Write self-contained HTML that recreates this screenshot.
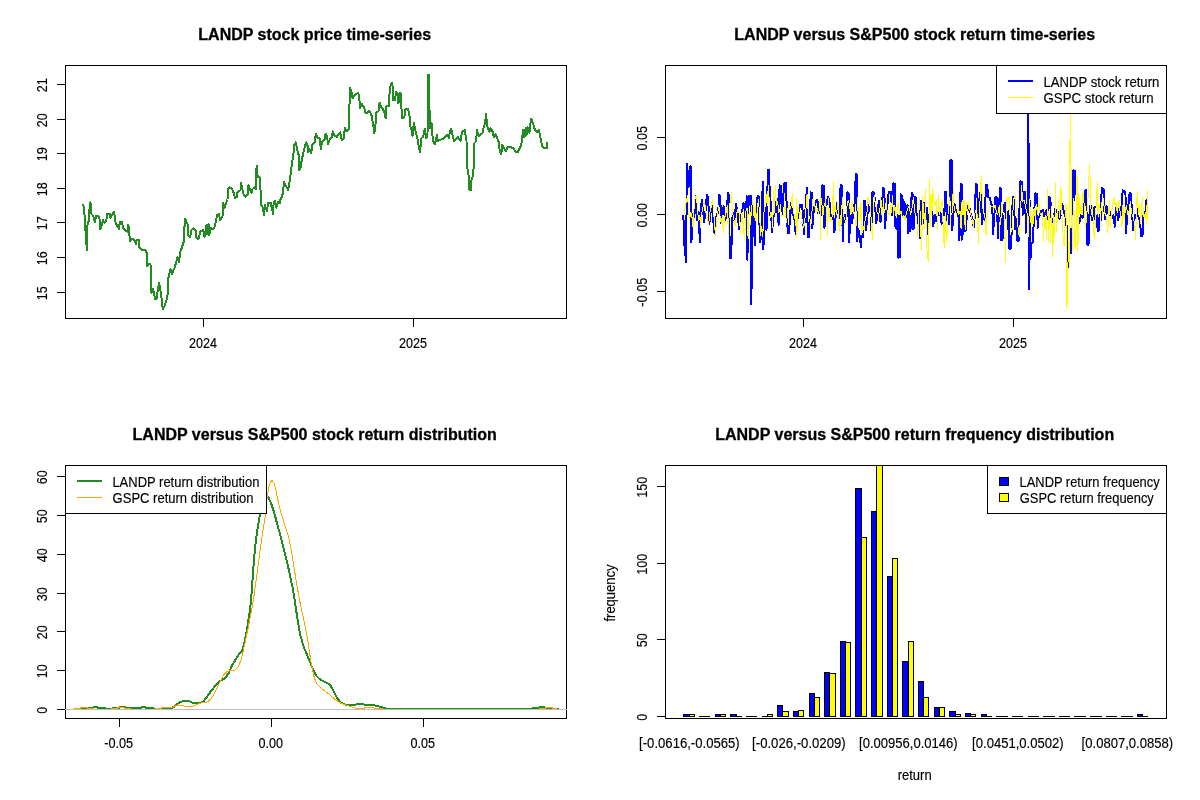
<!DOCTYPE html>
<html><head><meta charset="utf-8"><title>LANDP</title>
<style>html,body{margin:0;padding:0;background:#fff}svg{display:block}text{font-family:"Liberation Sans", sans-serif;fill:#000;stroke:#000;stroke-width:0.15px}text.b{stroke-width:0.3px}</style></head><body>
<svg width="1200" height="800" viewBox="0 0 1200 800" shape-rendering="crispEdges">
<rect width="1200" height="800" fill="#fff"/>
<clipPath id="c0"><rect x="66" y="66" width="500" height="252"/></clipPath>
<clipPath id="c1"><rect x="666" y="66" width="500" height="252"/></clipPath>
<clipPath id="c2"><rect x="66" y="466" width="500" height="252"/></clipPath>
<clipPath id="c3"><rect x="666" y="466" width="500" height="252"/></clipPath>
<rect x="65.5" y="65.5" width="501" height="253" fill="none" stroke="#000" stroke-width="1"/>
<polyline clip-path="url(#c0)" points="83.4,204.8 84.5,215.3 85.1,225.0 86.9,250.5 87.5,225.0 88.6,221.3 89.0,213.0 90.5,202.5 91.3,213.8 93.1,215.6 95.0,222.0 96.1,215.6 98.4,215.6 99.9,219.8 100.3,229.1 101.8,225.0 102.9,220.1 104.8,222.8 106.6,219.0 107.4,213.8 109.6,213.8 110.4,217.9 113.8,211.9 114.9,216.8 115.3,221.3 116.8,225.0 119.0,229.1 119.8,222.0 122.0,221.6 123.1,228.0 126.1,231.0 128.0,231.8 128.4,224.6 129.1,232.5 130.1,241.1 131.8,238.5 134.0,240.0 135.9,244.1 136.6,240.0 138.9,240.0 139.3,247.5 142.0,250.5 145.0,249.5 146.8,253.0 147.2,266.0 149.0,264.0 150.5,264.0 151.0,290.0 151.5,293.0 153.0,288.5 155.0,299.0 156.5,298.5 159.0,282.5 160.5,291.0 161.5,298.0 162.8,309.0 164.5,306.0 166.5,300.0 168.0,293.0 168.2,279.0 169.5,273.0 170.5,269.0 172.0,274.0 173.5,270.0 174.5,268.0 176.0,263.0 177.5,257.0 179.2,262.0 180.0,252.5 182.0,247.0 184.0,241.0 184.3,230.0 185.0,218.5 186.5,222.0 188.0,225.0 188.5,236.0 190.0,237.0 191.5,230.0 193.5,228.0 195.5,230.5 196.5,238.0 198.5,239.0 200.5,231.5 203.0,230.0 204.5,236.5 206.5,225.0 207.0,234.0 208.5,224.0 209.2,235.5 211.0,228.0 212.5,229.0 213.5,229.0 215.0,226.0 216.0,220.5 217.2,215.0 219.0,214.0 220.2,220.5 222.5,216.0 223.2,203.0 224.5,208.0 226.0,203.0 227.5,199.5 228.0,189.0 229.5,187.0 232.0,189.0 234.0,193.5 235.0,198.0 237.0,197.0 237.5,192.5 240.5,190.0 241.2,183.0 242.5,190.0 243.5,194.0 245.5,196.5 248.0,194.0 248.5,185.0 250.0,189.0 251.5,193.0 252.5,189.0 255.0,187.0 256.0,189.0 255.8,172.7 257.0,165.4 257.6,176.7 259.6,177.2 260.7,193.0 261.2,205.4 262.9,207.6 264.1,215.5 264.6,204.8 266.9,211.0 268.0,203.1 270.8,202.6 271.9,208.7 273.1,213.8 273.6,203.1 275.0,200.9 276.4,207.6 278.1,202.0 279.8,203.1 280.9,197.5 282.1,197.5 283.2,189.6 284.0,182.3 286.0,186.2 288.2,190.2 289.1,185.1 290.5,175.0 292.2,161.5 293.3,156.4 294.1,144.6 295.9,142.4 297.2,150.2 298.6,154.7 299.3,169.9 300.6,167.1 301.7,160.4 303.4,152.5 304.6,147.4 306.2,142.4 307.6,145.7 308.3,152.5 309.6,149.1 311.3,153.1 312.4,144.1 314.7,142.4 315.8,133.9 317.5,137.9 319.7,138.4 320.9,149.1 322.0,142.4 324.5,139.7 325.6,133.6 327.0,136.4 328.1,144.2 329.6,139.7 331.8,137.5 332.9,131.3 334.1,135.2 336.9,136.9 338.6,134.1 340.2,132.4 341.9,140.3 343.6,138.6 345.0,127.4 346.4,131.3 348.7,129.6 349.2,112.7 350.1,87.4 351.5,91.9 352.6,98.1 355.4,94.7 358.2,92.5 359.4,99.2 359.9,108.2 361.6,103.7 363.9,107.1 365.6,113.3 367.2,112.7 368.9,110.5 371.2,113.9 372.3,119.5 373.4,126.2 374.2,133.0 375.3,128.5 376.0,112.7 378.5,111.1 379.6,102.6 381.3,107.1 383.0,109.4 384.7,112.7 385.6,118.4 386.4,106.0 388.8,106.0 389.5,94.2 390.6,85.2 391.9,82.9 392.8,87.2 393.1,99.8 395.0,99.8 396.2,91.6 397.8,96.0 398.5,103.5 399.4,92.9 401.0,93.5 401.5,108.5 402.2,117.9 404.4,117.2 405.6,108.5 407.5,108.5 409.4,112.9 410.0,126.0 411.5,129.8 412.5,136.0 413.8,122.9 415.0,128.5 416.5,134.8 418.1,141.0 418.8,147.2 420.2,152.2 421.0,138.5 423.1,136.6 425.0,128.5 426.2,138.5 427.5,136.0 427.9,74.8 429.0,74.8 429.8,128.5 431.5,122.9 432.5,136.0 433.5,141.6 435.0,144.1 436.9,134.8 437.5,141.0 440.0,139.8 443.8,138.5 445.6,136.6 447.5,134.8 448.8,137.9 450.0,131.0 451.2,129.1 452.5,134.8 454.0,141.0 456.2,139.1 458.1,137.2 460.6,141.0 461.9,132.2 464.8,129.8 465.6,136.0 466.5,141.0 467.2,167.5 468.5,175.0 469.4,190.0 471.0,190.0 471.5,180.0 473.1,175.0 474.0,162.5 474.4,143.1 476.2,141.2 476.9,130.0 478.5,136.2 480.6,134.4 482.5,133.1 483.8,126.2 485.0,123.8 486.0,113.8 487.2,126.2 489.4,131.9 490.6,128.1 492.5,131.2 494.0,137.5 495.6,134.4 497.5,138.8 499.0,142.5 499.8,151.9 501.2,154.4 502.2,145.0 503.8,147.5 505.6,151.2 507.5,147.5 510.6,146.9 513.8,148.8 515.6,151.9 517.8,151.9 519.4,148.8 521.2,145.0 522.2,137.5 523.1,130.0 524.4,137.5 525.6,128.1 526.5,135.0 527.5,126.9 529.4,133.1 530.2,125.0 531.2,118.8 533.1,123.8 535.0,130.0 536.9,131.9 539.0,130.0 540.6,138.8 542.5,146.9 544.4,148.1 546.9,148.1 547.1,142.5" fill="none" stroke="#228B22" stroke-width="2" stroke-linejoin="round" stroke-linecap="round"/>
<text x="314.7" y="40.2" text-anchor="middle" font-size="16" font-weight="bold" class="b">LANDP stock price time-series</text>
<rect x="57" y="292" width="8" height="1" fill="#000"/>
<text x="46.6" y="293.2" text-anchor="middle" font-size="14" textLength="14" lengthAdjust="spacingAndGlyphs" transform="rotate(-90 46.6 293.2)">15</text>
<rect x="57" y="257" width="8" height="1" fill="#000"/>
<text x="46.6" y="258.2" text-anchor="middle" font-size="14" textLength="14" lengthAdjust="spacingAndGlyphs" transform="rotate(-90 46.6 258.2)">16</text>
<rect x="57" y="222" width="8" height="1" fill="#000"/>
<text x="46.6" y="223.2" text-anchor="middle" font-size="14" textLength="14" lengthAdjust="spacingAndGlyphs" transform="rotate(-90 46.6 223.2)">17</text>
<rect x="57" y="188" width="8" height="1" fill="#000"/>
<text x="46.6" y="189.2" text-anchor="middle" font-size="14" textLength="14" lengthAdjust="spacingAndGlyphs" transform="rotate(-90 46.6 189.2)">18</text>
<rect x="57" y="153" width="8" height="1" fill="#000"/>
<text x="46.6" y="154.2" text-anchor="middle" font-size="14" textLength="14" lengthAdjust="spacingAndGlyphs" transform="rotate(-90 46.6 154.2)">19</text>
<rect x="57" y="119" width="8" height="1" fill="#000"/>
<text x="46.6" y="120.2" text-anchor="middle" font-size="14" textLength="14" lengthAdjust="spacingAndGlyphs" transform="rotate(-90 46.6 120.2)">20</text>
<rect x="57" y="84" width="8" height="1" fill="#000"/>
<text x="46.6" y="85.2" text-anchor="middle" font-size="14" textLength="14" lengthAdjust="spacingAndGlyphs" transform="rotate(-90 46.6 85.2)">21</text>
<rect x="65" y="84" width="1" height="209" fill="#000"/>
<rect x="203" y="318" width="1" height="9" fill="#000"/>
<text x="203" y="348" text-anchor="middle" font-size="14" textLength="28" lengthAdjust="spacingAndGlyphs">2024</text>
<rect x="413" y="318" width="1" height="9" fill="#000"/>
<text x="413" y="348" text-anchor="middle" font-size="14" textLength="28" lengthAdjust="spacingAndGlyphs">2025</text>
<rect x="203" y="318" width="211" height="1" fill="#000"/>
<rect x="665.5" y="65.5" width="501" height="253" fill="none" stroke="#000" stroke-width="1"/>
<polyline clip-path="url(#c1)" points="683.4,215.0 684.1,242.5 685.2,251.5 685.9,261.8 687.2,164.1 688.5,187.5 690.3,166.2 691.3,166.9 691.4,242.5 692.7,214.3 693.8,217.8 694.9,212.3 695.8,195.8 697.2,220.5 698.6,212.3 699.9,242.5 700.6,220.5 701.7,199.9 702.7,205.4 704.1,221.9 705.4,212.3 706.8,195.1 708.2,197.1 709.2,224.6 710.5,212.3 711.9,206.1 713.0,217.8 714.4,232.9 715.5,219.1 716.9,215.0 718.2,212.3 719.2,195.1 720.3,197.1 721.0,223.3 722.4,212.3 723.7,206.1 725.1,220.5 726.8,212.3 727.9,193.0 729.0,195.8 729.8,258.3 731.2,258.3 732.0,224.6 732.9,212.3 734.3,220.5 736.1,204.0 737.8,215.0 739.1,228.8 740.5,217.8 741.9,212.3 743.5,203.3 744.6,205.4 745.7,220.5 746.7,196.4 747.4,259.7 748.1,220.5 748.8,195.8 750.0,201.3 750.7,195.8 751.4,304.4 752.1,215.0 753.4,205.4 754.8,245.3 755.8,215.0 757.6,195.8 758.9,197.1 759.9,242.5 761.7,234.3 762.7,182.0 763.3,249.4 764.4,228.8 765.4,208.1 766.5,230.1 767.9,169.6 769.3,170.3 769.9,215.0 770.6,201.3 772.0,232.2 773.4,217.8 774.8,201.3 776.1,212.3 777.5,199.2 778.6,224.6 779.6,185.4 780.9,186.1 781.9,215.0 783.0,201.3 784.1,183.4 786.0,182.7 786.9,215.0 787.8,232.9 789.2,232.9 789.9,215.0 791.0,203.3 791.9,212.3 793.3,215.0 794.7,220.5 795.7,234.3 796.8,215.0 798.1,217.8 799.8,205.4 801.6,204.7 802.9,212.3 803.9,234.3 805.0,215.0 806.1,202.6 806.8,188.2 807.8,237.0 808.9,237.0 809.8,215.0 810.8,192.3 812.2,193.0 812.3,228.1 813.3,215.0 814.6,205.4 816.7,199.9 817.7,201.3 818.5,213.6 820.0,205.4 820.0,205.4 821.4,215.0 822.5,185.4 823.9,186.1 824.4,228.1 825.5,215.0 826.9,201.3 828.0,197.1 829.4,199.2 829.9,212.3 831.7,217.8 833.1,215.0 834.4,232.2 835.4,219.1 836.8,203.3 838.6,215.0 839.9,217.8 840.6,184.8 842.0,185.4 842.7,241.1 843.7,219.1 845.0,215.0 846.4,220.5 847.5,192.3 848.6,193.0 849.2,242.5 850.3,212.3 851.9,223.3 853.0,215.0 854.4,206.8 855.8,174.4 857.1,174.4 857.3,241.1 858.2,228.8 859.9,237.0 861.0,247.3 861.9,228.8 863.3,237.0 864.3,200.6 865.4,201.3 866.1,230.1 867.4,215.0 868.8,205.4 870.6,212.3 871.6,232.2 872.5,191.6 873.9,192.3 875.0,201.3 876.1,223.3 877.5,215.0 878.9,200.6 879.8,201.3 880.5,221.9 881.6,212.3 883.0,188.2 884.4,188.9 884.9,228.1 886.0,215.0 887.4,205.4 888.8,191.6 890.0,192.3 890.0,191.6 891.1,192.3 892.1,215.0 893.4,183.4 895.2,184.1 895.5,227.4 896.9,228.8 897.6,215.0 898.5,257.6 899.9,257.0 900.7,194.4 901.6,215.0 902.4,195.8 903.2,216.4 903.8,201.3 904.6,217.8 905.1,204.0 906.2,215.0 907.2,205.4 907.9,233.6 909.0,205.4 909.9,231.5 910.6,215.0 911.7,193.0 912.4,228.8 913.1,194.4 913.7,228.8 914.8,197.1 916.1,197.8 916.8,223.3 918.2,215.0 919.6,208.1 920.3,238.4 920.9,201.3 922.3,215.0 923.3,223.3 924.4,202.6 925.8,212.3 926.9,208.1 927.8,234.3 928.8,215.0 930.6,212.3 931.9,206.8 933.3,226.0 934.7,215.0 936.1,221.2 937.4,212.3 938.8,215.0 940.2,209.5 941.6,223.9 942.9,212.3 944.3,215.0 945.0,191.6 946.1,192.3 946.7,220.5 947.8,205.4 949.1,224.6 949.8,184.8 950.5,160.0 951.6,160.7 952.2,230.1 953.3,215.0 954.6,204.0 956.0,212.3 957.4,215.0 958.8,217.8 959.4,240.5 960.0,215.0 960.0,215.0 960.7,184.1 961.7,184.8 961.8,239.8 962.5,235.6 963.0,215.0 964.1,205.4 965.5,231.5 966.9,215.0 968.3,205.4 969.6,208.1 971.0,215.0 972.4,219.1 973.8,227.4 974.9,215.0 975.8,184.1 977.2,184.8 977.9,215.0 979.3,217.8 980.4,192.3 981.3,193.0 982.0,224.6 983.4,212.3 984.8,220.5 985.9,184.8 987.2,185.4 988.2,197.1 990.0,197.8 990.9,204.0 992.3,205.4 993.0,234.3 994.4,215.0 995.5,197.1 997.1,197.8 997.8,238.4 998.8,215.0 999.9,188.2 1001.3,188.9 1001.4,240.5 1002.9,238.4 1003.7,205.4 1005.1,203.3 1006.1,215.0 1007.4,228.8 1008.4,210.9 1009.5,249.4 1011.2,248.0 1012.0,215.0 1012.9,197.1 1013.9,199.9 1015.0,228.8 1016.1,219.1 1017.5,241.1 1018.9,239.8 1019.4,210.9 1020.5,181.3 1022.2,182.0 1022.6,215.0 1023.9,191.6 1025.3,192.3 1025.7,232.9 1026.7,215.0 1027.7,201.3 1028.2,74.7 1029.2,289.3 1030.0,215.0 1030.0,201.3 1030.7,257.6 1031.4,242.5 1033.0,242.5 1033.9,215.0 1035.5,193.0 1037.2,194.4 1037.6,228.1 1038.5,217.8 1039.9,215.0 1041.3,210.9 1043.1,210.2 1044.4,216.4 1046.5,210.2 1047.9,219.1 1049.3,197.1 1050.4,197.8 1050.9,215.0 1052.7,223.3 1054.1,215.0 1055.4,208.8 1056.8,215.0 1058.2,212.3 1059.6,219.1 1060.9,215.0 1062.3,204.0 1063.7,210.9 1064.7,215.0 1065.8,224.6 1067.1,226.0 1067.8,267.5 1069.2,267.3 1069.9,228.8 1071.0,253.5 1071.9,215.0 1072.9,199.9 1073.5,170.3 1074.3,199.9 1075.1,171.0 1076.1,184.8 1076.8,201.3 1077.4,201.3 1078.1,215.0 1079.2,223.3 1080.9,215.0 1082.3,217.8 1083.6,215.0 1084.7,194.4 1085.7,189.6 1086.4,201.3 1087.5,245.3 1088.9,242.5 1089.4,215.0 1090.5,205.4 1091.9,220.5 1093.3,215.0 1094.6,206.8 1096.0,227.4 1097.4,215.0 1098.5,231.5 1100.0,215.0 1100.7,220.5 1101.7,188.2 1103.5,188.9 1104.0,205.4 1105.1,219.1 1106.5,206.1 1107.9,212.3 1109.3,215.0 1110.6,212.3 1112.0,217.8 1113.4,215.0 1114.8,226.7 1116.1,207.4 1117.5,208.1 1118.2,220.5 1119.6,209.5 1120.9,215.0 1121.9,199.9 1122.7,190.3 1124.4,190.9 1125.5,195.1 1126.0,233.6 1127.1,215.0 1128.2,206.8 1129.6,193.0 1131.0,193.7 1131.9,212.3 1133.3,230.1 1134.7,215.0 1136.1,217.8 1137.4,209.5 1138.8,219.1 1140.2,220.5 1140.9,236.3 1142.5,235.6 1143.4,215.0 1144.7,212.3 1145.7,215.0 1146.4,199.9 1147.1,217.8" fill="none" stroke="#0000FF" stroke-width="2" stroke-linejoin="round"/>
<polyline clip-path="url(#c1)" points="683.9,214.3 684.8,210.9 686.2,201.3 687.6,195.1 688.3,206.8 689.4,221.9 690.7,212.3 692.1,217.8 693.1,227.4 694.4,201.3 695.4,197.1 696.5,195.1 697.6,212.3 699.0,220.5 699.9,215.0 700.6,227.4 702.0,212.3 703.4,205.4 704.5,201.3 705.9,212.3 707.5,217.8 708.6,224.6 710.0,212.3 711.4,206.8 712.5,199.2 713.7,212.3 714.7,226.0 715.5,235.6 716.4,220.5 717.8,212.3 718.8,205.4 719.9,215.0 721.3,223.3 722.4,215.0 723.3,232.9 724.7,217.8 726.1,212.3 727.4,205.4 728.4,235.6 729.2,212.3 730.2,201.3 731.6,192.3 732.3,212.3 733.6,217.8 735.0,226.0 736.4,215.0 737.8,209.5 739.1,212.3 740.5,233.6 741.2,217.8 742.2,212.3 743.5,228.8 744.6,240.5 745.7,212.3 747.1,208.1 748.1,238.4 748.8,215.0 750.0,212.3 750.0,224.6 751.1,215.0 752.5,199.9 753.4,205.4 754.1,217.8 755.2,205.4 756.2,224.6 757.6,205.4 758.5,199.9 759.6,215.0 760.7,235.6 761.7,226.0 762.7,237.0 763.8,215.0 764.9,201.3 766.2,194.4 767.2,205.4 768.3,185.4 769.3,201.3 770.4,217.8 771.7,212.3 772.7,227.4 773.7,190.3 774.5,212.3 775.4,185.4 776.4,205.4 777.5,201.3 778.9,212.3 780.3,208.1 781.9,216.4 783.7,215.0 785.1,205.4 786.4,222.6 787.4,215.0 788.5,202.6 789.9,209.5 791.3,205.4 792.4,193.0 793.3,212.3 794.7,215.0 795.7,226.0 796.5,198.5 796.8,237.7 797.9,206.8 799.5,215.0 800.9,212.3 802.3,220.5 803.9,227.4 805.0,217.8 806.1,206.8 807.1,194.4 808.4,215.0 809.8,217.8 811.2,223.9 812.6,201.3 813.5,195.8 814.6,205.4 816.0,212.3 817.4,208.1 818.5,215.0 820.0,202.6 820.0,239.8 820.7,195.8 822.1,205.4 823.0,215.0 824.1,205.4 825.5,201.3 826.6,212.3 827.6,235.6 828.5,198.5 829.4,215.0 830.7,221.9 832.4,215.0 833.5,182.0 833.8,215.0 835.1,205.4 836.5,215.0 837.9,202.6 839.3,231.5 840.4,215.0 841.3,224.6 842.3,197.1 843.4,215.0 844.8,219.1 845.9,224.6 846.8,206.8 848.2,199.9 849.6,205.4 850.9,215.0 852.3,201.3 853.7,212.3 855.1,220.5 856.0,226.0 856.9,215.0 857.4,197.1 858.5,215.0 859.9,220.5 861.0,202.6 861.9,234.3 862.9,226.0 864.0,230.1 865.4,217.8 866.8,215.0 868.1,196.4 869.5,201.3 870.9,215.0 872.3,239.1 873.4,215.0 874.3,195.8 875.7,205.4 877.1,212.3 878.4,215.0 879.8,210.9 880.8,195.8 881.9,215.0 883.3,205.4 884.6,212.3 886.0,203.3 887.4,212.3 888.8,215.0 890.0,212.3 890.0,205.4 891.4,212.3 892.5,195.8 893.4,215.0 894.8,205.4 896.2,217.8 897.6,205.4 898.5,201.3 899.6,215.0 901.0,210.9 902.4,217.8 903.8,215.0 905.1,220.5 906.5,212.3 907.9,208.1 909.3,205.4 910.6,215.0 912.0,208.1 913.4,197.1 914.8,212.3 915.9,215.0 916.8,220.5 917.8,236.3 918.6,215.0 919.6,197.1 920.5,226.0 921.6,250.8 922.7,197.1 923.7,215.0 924.7,228.8 925.5,189.6 926.4,242.5 927.4,254.9 928.5,261.8 929.6,179.3 930.2,226.0 931.0,194.4 931.9,215.0 932.6,188.2 933.7,201.3 935.1,205.4 936.5,199.2 937.4,228.8 938.4,195.8 939.5,215.0 940.9,208.1 942.3,199.2 943.4,234.3 944.3,248.0 945.3,215.0 946.4,241.8 947.5,228.8 948.4,204.0 949.4,197.1 950.5,212.3 951.9,215.0 953.3,188.2 953.9,205.4 955.3,212.3 956.7,215.0 957.7,208.1 958.8,215.0 960.0,210.9 960.0,212.3 961.1,228.8 962.1,199.9 963.0,215.0 964.1,199.2 965.2,230.1 966.2,202.6 967.6,215.0 968.5,201.9 969.6,208.1 971.0,215.0 972.4,220.5 973.5,227.4 974.4,215.0 975.8,210.2 977.2,215.0 978.6,243.9 979.3,215.0 980.4,193.0 981.3,175.8 982.3,201.3 983.4,212.3 984.8,215.0 986.1,235.6 987.2,215.0 988.6,208.1 990.3,206.8 992.3,206.1 993.7,208.1 995.1,205.4 996.4,212.3 997.8,215.0 999.2,205.4 1000.6,224.6 1001.9,202.6 1002.9,212.3 1004.3,215.0 1005.7,261.1 1006.5,197.1 1007.9,199.9 1009.2,197.1 1010.2,215.0 1011.2,231.5 1012.3,228.8 1013.4,199.9 1014.7,195.1 1016.1,205.4 1017.1,215.0 1018.4,231.5 1019.4,237.0 1020.5,215.0 1021.6,185.4 1022.6,201.3 1023.9,199.9 1025.3,205.4 1026.7,212.3 1027.7,215.0 1028.5,237.0 1029.4,199.9 1030.0,215.0 1030.0,206.8 1031.1,224.6 1032.1,215.0 1033.0,224.6 1034.1,208.1 1035.2,217.8 1036.6,204.0 1037.6,215.0 1038.5,197.1 1039.6,212.3 1041.0,215.0 1042.4,212.3 1043.5,241.1 1044.4,221.9 1045.4,215.0 1046.5,239.8 1047.6,189.6 1048.6,241.8 1049.5,215.0 1050.6,242.5 1051.7,206.8 1052.7,257.0 1053.7,215.0 1054.8,237.0 1055.4,182.0 1056.4,231.5 1057.5,215.0 1058.6,198.5 1059.6,217.8 1060.9,186.8 1061.9,212.3 1063.0,234.3 1064.1,246.0 1065.1,215.0 1066.0,204.0 1066.9,308.8 1068.5,241.1 1069.2,267.3 1070.2,113.0 1071.3,184.8 1072.4,250.1 1073.3,198.5 1074.3,215.0 1075.1,250.1 1076.1,228.8 1077.0,175.8 1077.9,252.1 1078.8,193.0 1079.8,215.0 1080.9,205.4 1082.0,215.0 1082.9,192.3 1083.9,201.3 1085.0,217.8 1085.7,227.4 1086.7,215.0 1087.8,202.6 1088.9,177.9 1089.8,164.8 1090.5,204.0 1091.6,215.0 1092.6,205.4 1093.5,230.1 1094.6,239.8 1095.7,215.0 1096.7,194.4 1097.4,182.7 1098.1,215.0 1098.8,204.0 1100.0,208.1 1100.3,220.5 1101.3,202.6 1102.4,215.0 1103.5,198.5 1104.4,212.3 1105.8,215.0 1106.8,221.2 1107.6,232.9 1108.6,215.0 1109.5,199.9 1110.4,227.4 1111.3,215.0 1112.7,204.0 1114.1,197.1 1115.0,205.4 1116.1,202.6 1117.2,212.3 1118.2,205.4 1119.2,200.6 1120.3,215.0 1121.4,220.5 1121.9,226.7 1123.0,205.4 1124.1,220.5 1125.1,212.3 1126.4,205.4 1127.8,215.0 1129.2,210.9 1130.6,201.9 1131.3,212.3 1132.6,215.0 1134.0,220.5 1134.7,226.0 1135.7,239.8 1136.5,204.0 1137.4,192.3 1138.4,215.0 1139.5,204.0 1140.6,223.3 1141.6,208.1 1142.5,197.1 1143.4,215.0 1144.3,217.8 1145.3,212.3 1146.4,223.9 1147.5,190.9 1147.8,220.5" fill="none" stroke="#FFFF00" stroke-width="1" stroke-linejoin="round"/>
<text x="914.7" y="40.2" text-anchor="middle" font-size="16" font-weight="bold" class="b">LANDP versus S&amp;P500 stock return time-series</text>
<rect x="657" y="137" width="8" height="1" fill="#000"/>
<text x="646.6" y="138.2" text-anchor="middle" font-size="14" textLength="24.5" lengthAdjust="spacingAndGlyphs" transform="rotate(-90 646.6 138.2)">0.05</text>
<rect x="657" y="214" width="8" height="1" fill="#000"/>
<text x="646.6" y="215.2" text-anchor="middle" font-size="14" textLength="24.5" lengthAdjust="spacingAndGlyphs" transform="rotate(-90 646.6 215.2)">0.00</text>
<rect x="657" y="291" width="8" height="1" fill="#000"/>
<text x="646.6" y="292.2" text-anchor="middle" font-size="14" textLength="29.0" lengthAdjust="spacingAndGlyphs" transform="rotate(-90 646.6 292.2)">-0.05</text>
<rect x="803" y="318" width="1" height="9" fill="#000"/>
<text x="803" y="348" text-anchor="middle" font-size="14" textLength="28" lengthAdjust="spacingAndGlyphs">2024</text>
<rect x="1013" y="318" width="1" height="9" fill="#000"/>
<text x="1013" y="348" text-anchor="middle" font-size="14" textLength="28" lengthAdjust="spacingAndGlyphs">2025</text>
<rect x="996.5" y="65.5" width="170" height="48" fill="#fff" stroke="#000" stroke-width="1"/>
<rect x="1008" y="80" width="25" height="2" fill="#0000FF"/>
<rect x="1008" y="97" width="25" height="1" fill="#FFFF00"/>
<text x="1043.4" y="86.5" text-anchor="start" font-size="14" textLength="116" lengthAdjust="spacingAndGlyphs">LANDP stock return</text>
<text x="1043.6" y="102.5" text-anchor="start" font-size="14" textLength="110" lengthAdjust="spacingAndGlyphs">GSPC stock return</text>
<rect x="65.5" y="465.5" width="501" height="253" fill="none" stroke="#000" stroke-width="1"/>
<polyline clip-path="url(#c2)" points="79.8,708.0 93.0,708.0 93.5,707.0 97.5,707.0 98.0,708.0 105.0,708.0 105.5,709.0 112.5,709.0 113.0,708.0 119.0,708.0 119.5,707.0 125.0,707.0 125.5,708.0 141.0,708.0 141.5,707.0 145.5,707.0 146.0,708.0 153.0,708.0 153.5,709.0 161.0,709.0 161.5,708.5 172.0,708.0 173.5,707.0 175.0,706.0 176.5,704.5 179.0,703.0 180.5,702.0 182.5,701.2 184.0,701.0 189.8,701.4 193.0,703.0 199.5,703.0 203.6,701.4 207.6,695.7 212.5,689.2 217.4,683.5 221.5,680.2 225.5,677.8 228.8,672.9 232.0,665.6 235.3,659.9 238.5,655.0 241.8,651.0 243.7,645.3 245.9,635.5 247.5,625.8 249.1,616.0 250.7,603.0 251.9,589.8 253.2,569.6 254.9,549.3 256.9,532.5 259.5,517.3 260.6,513.0 262.5,505.0 264.5,498.5 266.0,496.0 267.0,496.2 268.7,497.9 271.3,503.8 274.1,512.2 277.2,524.0 280.5,535.8 283.9,549.3 287.3,562.8 289.8,574.6 292.3,586.4 293.1,590.0 295.6,606.3 298.0,622.5 300.4,635.5 303.7,646.9 307.8,656.7 311.8,666.4 315.9,675.4 320.0,679.4 324.8,681.9 329.7,684.3 333.0,690.0 336.2,696.5 340.3,702.2 345.2,704.6 353.3,705.0 359.0,703.8 364.7,704.6 372.8,705.1 378.5,706.3 384.2,708.0 388.0,709.0 532.0,709.0 532.5,708.0 539.0,708.0 539.5,707.0 544.5,707.0 545.0,708.0 552.0,708.0 552.5,709.0 559.0,709.0" fill="none" stroke="#228B22" stroke-width="2" stroke-linejoin="round"/>
<polyline clip-path="url(#c2)" points="74.0,708.5 80.0,708.5 80.5,707.5 87.0,707.5 87.5,708.5 93.0,708.5 93.5,709.5 111.0,709.5 111.5,708.5 117.0,708.5 117.5,707.5 124.0,707.5 124.5,708.5 130.0,708.5 130.5,709.5 155.0,709.5 155.5,708.5 161.0,708.5 161.5,707.5 172.0,707.5 174.0,706.5 177.0,705.5 181.3,705.2 186.5,706.6 193.0,706.1 197.9,704.1 202.8,702.5 207.6,701.9 210.9,698.9 214.1,694.1 217.4,687.6 220.7,680.2 223.9,674.6 227.2,671.3 231.2,670.5 235.3,670.0 238.5,666.4 241.0,659.9 243.4,650.2 245.9,638.8 248.3,627.4 250.7,614.4 253.2,601.4 256.9,574.6 260.3,549.3 262.8,530.8 265.4,515.6 267.0,498.7 268.7,486.9 270.4,481.9 272.1,480.5 273.8,482.7 275.5,488.6 278.0,500.4 280.5,511.4 283.9,522.3 287.3,532.5 289.8,542.6 292.3,556.1 294.9,572.9 297.4,588.1 300.4,604.6 303.7,619.3 307.0,635.5 309.4,651.8 311.8,666.4 314.3,677.8 316.7,683.5 322.4,689.2 328.9,694.1 335.4,699.8 341.9,703.8 350.0,706.3 356.5,708.5 363.0,708.5 366.0,707.5 372.0,707.5 376.1,708.5 382.0,708.5 382.6,709.5 539.0,709.5 539.5,708.5 545.0,708.5 545.5,707.5 552.0,707.5 552.5,708.5 557.0,708.5" fill="none" stroke="#FFA500" stroke-width="1" stroke-linejoin="round"/>
<rect x="65" y="709" width="502" height="1" fill="#BEBEBE"/>
<text x="314.7" y="440.2" text-anchor="middle" font-size="16" font-weight="bold" class="b">LANDP versus S&amp;P500 stock return distribution</text>
<rect x="57" y="709" width="8" height="1" fill="#000"/>
<text x="46.6" y="710.2" text-anchor="middle" font-size="14" textLength="7" lengthAdjust="spacingAndGlyphs" transform="rotate(-90 46.6 710.2)">0</text>
<rect x="57" y="670" width="8" height="1" fill="#000"/>
<text x="46.6" y="671.2" text-anchor="middle" font-size="14" textLength="14" lengthAdjust="spacingAndGlyphs" transform="rotate(-90 46.6 671.2)">10</text>
<rect x="57" y="631" width="8" height="1" fill="#000"/>
<text x="46.6" y="632.2" text-anchor="middle" font-size="14" textLength="14" lengthAdjust="spacingAndGlyphs" transform="rotate(-90 46.6 632.2)">20</text>
<rect x="57" y="593" width="8" height="1" fill="#000"/>
<text x="46.6" y="594.2" text-anchor="middle" font-size="14" textLength="14" lengthAdjust="spacingAndGlyphs" transform="rotate(-90 46.6 594.2)">30</text>
<rect x="57" y="554" width="8" height="1" fill="#000"/>
<text x="46.6" y="555.2" text-anchor="middle" font-size="14" textLength="14" lengthAdjust="spacingAndGlyphs" transform="rotate(-90 46.6 555.2)">40</text>
<rect x="57" y="515" width="8" height="1" fill="#000"/>
<text x="46.6" y="516.2" text-anchor="middle" font-size="14" textLength="14" lengthAdjust="spacingAndGlyphs" transform="rotate(-90 46.6 516.2)">50</text>
<rect x="57" y="476" width="8" height="1" fill="#000"/>
<text x="46.6" y="477.2" text-anchor="middle" font-size="14" textLength="14" lengthAdjust="spacingAndGlyphs" transform="rotate(-90 46.6 477.2)">60</text>
<rect x="119" y="718" width="1" height="9" fill="#000"/>
<text x="118.7" y="748" text-anchor="middle" font-size="14" textLength="29.0" lengthAdjust="spacingAndGlyphs">-0.05</text>
<rect x="271" y="718" width="1" height="9" fill="#000"/>
<text x="270.7" y="748" text-anchor="middle" font-size="14" textLength="24.5" lengthAdjust="spacingAndGlyphs">0.00</text>
<rect x="423" y="718" width="1" height="9" fill="#000"/>
<text x="422.7" y="748" text-anchor="middle" font-size="14" textLength="24.5" lengthAdjust="spacingAndGlyphs">0.05</text>
<rect x="65.5" y="465.5" width="201" height="48" fill="#fff" stroke="#000" stroke-width="1"/>
<rect x="77" y="480" width="25" height="2" fill="#228B22"/>
<rect x="77" y="497" width="25" height="1" fill="#FFA500"/>
<text x="112.4" y="486.5" text-anchor="start" font-size="14" textLength="147" lengthAdjust="spacingAndGlyphs">LANDP return distribution</text>
<text x="112.6" y="502.5" text-anchor="start" font-size="14" textLength="141" lengthAdjust="spacingAndGlyphs">GSPC return distribution</text>
<g clip-path="url(#c3)">
<rect x="683.5" y="714.5" width="6" height="2" fill="#0000FF" stroke="#000" stroke-width="1"/>
<rect x="689.5" y="714.5" width="5" height="2" fill="#FFFF00" stroke="#000" stroke-width="1"/>
<rect x="699" y="716" width="6" height="1" fill="#000"/>
<rect x="704" y="716" width="6" height="1" fill="#000"/>
<rect x="715.5" y="714.5" width="5" height="2" fill="#0000FF" stroke="#000" stroke-width="1"/>
<rect x="720.5" y="714.5" width="5" height="2" fill="#FFFF00" stroke="#000" stroke-width="1"/>
<rect x="730.5" y="714.5" width="6" height="2" fill="#0000FF" stroke="#000" stroke-width="1"/>
<rect x="736" y="716" width="6" height="1" fill="#000"/>
<rect x="746" y="716" width="6" height="1" fill="#000"/>
<rect x="751" y="716" width="6" height="1" fill="#000"/>
<rect x="762" y="716" width="6" height="1" fill="#000"/>
<rect x="767.5" y="714.5" width="5" height="2" fill="#FFFF00" stroke="#000" stroke-width="1"/>
<rect x="777.5" y="705.5" width="5" height="11" fill="#0000FF" stroke="#000" stroke-width="1"/>
<rect x="782.5" y="711.5" width="6" height="5" fill="#FFFF00" stroke="#000" stroke-width="1"/>
<rect x="793.5" y="711.5" width="5" height="5" fill="#0000FF" stroke="#000" stroke-width="1"/>
<rect x="798.5" y="710.5" width="5" height="6" fill="#FFFF00" stroke="#000" stroke-width="1"/>
<rect x="809.5" y="693.5" width="5" height="23" fill="#0000FF" stroke="#000" stroke-width="1"/>
<rect x="814.5" y="697.5" width="5" height="19" fill="#FFFF00" stroke="#000" stroke-width="1"/>
<rect x="824.5" y="672.5" width="5" height="44" fill="#0000FF" stroke="#000" stroke-width="1"/>
<rect x="829.5" y="673.5" width="6" height="43" fill="#FFFF00" stroke="#000" stroke-width="1"/>
<rect x="840.5" y="641.5" width="5" height="75" fill="#0000FF" stroke="#000" stroke-width="1"/>
<rect x="845.5" y="642.5" width="5" height="74" fill="#FFFF00" stroke="#000" stroke-width="1"/>
<rect x="855.5" y="488.5" width="6" height="228" fill="#0000FF" stroke="#000" stroke-width="1"/>
<rect x="861.5" y="537.5" width="5" height="179" fill="#FFFF00" stroke="#000" stroke-width="1"/>
<rect x="871.5" y="511.5" width="5" height="205" fill="#0000FF" stroke="#000" stroke-width="1"/>
<rect x="876.5" y="463.5" width="6" height="253" fill="#FFFF00" stroke="#000" stroke-width="1"/>
<rect x="887.5" y="576.5" width="5" height="140" fill="#0000FF" stroke="#000" stroke-width="1"/>
<rect x="892.5" y="558.5" width="5" height="158" fill="#FFFF00" stroke="#000" stroke-width="1"/>
<rect x="902.5" y="661.5" width="6" height="55" fill="#0000FF" stroke="#000" stroke-width="1"/>
<rect x="908.5" y="641.5" width="5" height="75" fill="#FFFF00" stroke="#000" stroke-width="1"/>
<rect x="918.5" y="681.5" width="5" height="35" fill="#0000FF" stroke="#000" stroke-width="1"/>
<rect x="923.5" y="697.5" width="5" height="19" fill="#FFFF00" stroke="#000" stroke-width="1"/>
<rect x="934.5" y="707.5" width="5" height="9" fill="#0000FF" stroke="#000" stroke-width="1"/>
<rect x="939.5" y="707.5" width="5" height="9" fill="#FFFF00" stroke="#000" stroke-width="1"/>
<rect x="949.5" y="711.5" width="6" height="5" fill="#0000FF" stroke="#000" stroke-width="1"/>
<rect x="955.5" y="714.5" width="5" height="2" fill="#FFFF00" stroke="#000" stroke-width="1"/>
<rect x="965.5" y="713.5" width="5" height="3" fill="#0000FF" stroke="#000" stroke-width="1"/>
<rect x="970.5" y="714.5" width="5" height="2" fill="#FFFF00" stroke="#000" stroke-width="1"/>
<rect x="981.5" y="714.5" width="5" height="2" fill="#0000FF" stroke="#000" stroke-width="1"/>
<rect x="986" y="716" width="6" height="1" fill="#000"/>
<rect x="996" y="716" width="6" height="1" fill="#000"/>
<rect x="1001" y="716" width="7" height="1" fill="#000"/>
<rect x="1012" y="716" width="6" height="1" fill="#000"/>
<rect x="1017" y="716" width="6" height="1" fill="#000"/>
<rect x="1028" y="716" width="6" height="1" fill="#000"/>
<rect x="1033" y="716" width="6" height="1" fill="#000"/>
<rect x="1043" y="716" width="6" height="1" fill="#000"/>
<rect x="1048" y="716" width="7" height="1" fill="#000"/>
<rect x="1059" y="716" width="6" height="1" fill="#000"/>
<rect x="1064" y="716" width="6" height="1" fill="#000"/>
<rect x="1074" y="716" width="7" height="1" fill="#000"/>
<rect x="1080" y="716" width="6" height="1" fill="#000"/>
<rect x="1090" y="716" width="6" height="1" fill="#000"/>
<rect x="1095" y="716" width="7" height="1" fill="#000"/>
<rect x="1106" y="716" width="6" height="1" fill="#000"/>
<rect x="1111" y="716" width="6" height="1" fill="#000"/>
<rect x="1121" y="716" width="7" height="1" fill="#000"/>
<rect x="1127" y="716" width="6" height="1" fill="#000"/>
<rect x="1137.5" y="714.5" width="5" height="2" fill="#0000FF" stroke="#000" stroke-width="1"/>
<rect x="1142" y="716" width="6" height="1" fill="#000"/>
</g>
<rect x="665.5" y="465.5" width="501" height="253" fill="none" stroke="#000" stroke-width="1"/>
<text x="914.7" y="440.2" text-anchor="middle" font-size="16" font-weight="bold" class="b">LANDP versus S&amp;P500 return frequency distribution</text>
<rect x="657" y="716" width="8" height="1" fill="#000"/>
<text x="646.6" y="717.2" text-anchor="middle" font-size="14" textLength="7" lengthAdjust="spacingAndGlyphs" transform="rotate(-90 646.6 717.2)">0</text>
<rect x="657" y="639" width="8" height="1" fill="#000"/>
<text x="646.6" y="640.2" text-anchor="middle" font-size="14" textLength="14" lengthAdjust="spacingAndGlyphs" transform="rotate(-90 646.6 640.2)">50</text>
<rect x="657" y="563" width="8" height="1" fill="#000"/>
<text x="646.6" y="564.2" text-anchor="middle" font-size="14" textLength="21" lengthAdjust="spacingAndGlyphs" transform="rotate(-90 646.6 564.2)">100</text>
<rect x="657" y="486" width="8" height="1" fill="#000"/>
<text x="646.6" y="487.2" text-anchor="middle" font-size="14" textLength="21" lengthAdjust="spacingAndGlyphs" transform="rotate(-90 646.6 487.2)">150</text>
<text x="689.4" y="748" text-anchor="middle" font-size="14" textLength="100.6" lengthAdjust="spacingAndGlyphs">[-0.0616,-0.0565)</text>
<text x="798.9" y="748" text-anchor="middle" font-size="14" textLength="93.6" lengthAdjust="spacingAndGlyphs">[-0.026,-0.0209)</text>
<text x="908.4" y="748" text-anchor="middle" font-size="14" textLength="98.6" lengthAdjust="spacingAndGlyphs">[0.00956,0.0146)</text>
<text x="1017.9" y="748" text-anchor="middle" font-size="14" textLength="91.6" lengthAdjust="spacingAndGlyphs">[0.0451,0.0502)</text>
<text x="1127.4" y="748" text-anchor="middle" font-size="14" textLength="91.6" lengthAdjust="spacingAndGlyphs">[0.0807,0.0858)</text>
<text x="914.7" y="780" text-anchor="middle" font-size="14" textLength="34.0" lengthAdjust="spacingAndGlyphs">return</text>
<text x="614.7" y="593" text-anchor="middle" font-size="14" textLength="57.1" lengthAdjust="spacingAndGlyphs" transform="rotate(-90 614.7 593)">frequency</text>
<rect x="987.5" y="465.5" width="179" height="48" fill="#fff" stroke="#000" stroke-width="1"/>
<rect x="999.5" y="477.5" width="9" height="8" fill="#0000FF" stroke="#000"/>
<rect x="999.5" y="493.5" width="9" height="8" fill="#FFFF00" stroke="#000"/>
<text x="1019.6" y="486.5" text-anchor="start" font-size="14" textLength="140" lengthAdjust="spacingAndGlyphs">LANDP return frequency</text>
<text x="1019.8" y="502.5" text-anchor="start" font-size="14" textLength="134" lengthAdjust="spacingAndGlyphs">GSPC return frequency</text>
</svg></body></html>
